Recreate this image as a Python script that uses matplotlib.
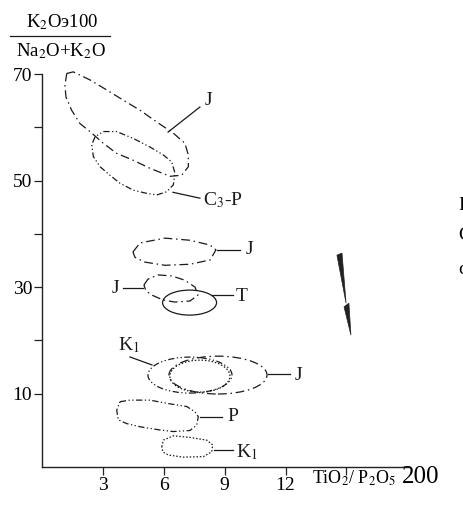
import numpy as np
import matplotlib
matplotlib.use("Agg")
import matplotlib.pyplot as plt
from matplotlib.patches import Polygon, Ellipse

plt.rcParams['font.family'] = ['Liberation Serif', 'DejaVu Serif']
plt.rcParams['mathtext.fontset'] = 'stix'

# ---- data (x = TiO2/P2O5, y = K2O*100/(Na2O+K2O)) ----
x_ticks = [3, 6, 9, 12, 15]
x_tick_labels = ["3", "6", "9", "12", ""]
y_ticks = [10, 20, 30, 40, 50, 60, 70]
y_tick_labels = ["10", "", "30", "", "50", "", "70"]

j_upper_x = [1.22, 1.54, 2.36, 3.19, 4.00, 4.83, 5.65, 6.47, 7.04, 7.21, 7.21, 6.88, 6.31,
             5.32, 4.50, 3.68, 3.02, 2.36, 1.87, 1.46, 1.18, 1.13]
j_upper_y = [70.1, 70.4, 68.9, 67.0, 65.1, 63.2, 61.0, 58.9, 57.0, 54.8, 52.6, 51.0, 50.8,
             52.3, 53.8, 55.1, 57.0, 59.2, 60.7, 63.2, 65.7, 67.9]

c3p_x = [3.02, 3.68, 4.50, 5.32, 5.98, 6.39, 6.55, 6.47, 6.14, 5.65, 5.16, 4.50, 3.84,
         3.35, 2.86, 2.53, 2.45, 2.61]
c3p_y = [59.2, 59.2, 57.9, 56.3, 54.8, 53.5, 51.4, 49.2, 47.9, 47.3, 47.6, 48.2, 49.5,
         51.0, 52.6, 54.5, 56.7, 58.2]

j_mid_x = [4.48, 4.83, 6.06, 7.29, 8.28, 8.57, 8.28, 7.29, 6.06, 5.07, 4.58]
j_mid_y = [36.6, 38.3, 39.2, 38.8, 37.9, 37.0, 35.1, 34.3, 34.1, 34.7, 35.6]

j_small_x = [5.02, 5.22, 5.71, 6.40, 7.04, 7.54, 7.68, 7.29, 6.55, 5.96, 5.42, 5.12]
j_small_y = [30.4, 31.5, 32.3, 32.1, 31.3, 30.0, 28.5, 27.4, 27.2, 27.6, 28.5, 29.3]

t_center = (7.27, 27.1)
t_size = (2.66, 4.69)

k1_upper_center = (7.29, 13.5)
k1_upper_size = (4.14, 6.75)
k1_inner_center = (7.78, 13.3)
k1_inner_size = (2.96, 6.0)
j_lower_center = (8.67, 13.5)
j_lower_size = (4.83, 7.1)

p_x = [3.84, 4.33, 5.32, 6.14, 7.13, 7.54, 7.70, 7.62, 7.29, 6.47, 5.81, 4.83, 4.17, 3.76, 3.68]
p_y = [8.5, 8.8, 8.8, 8.2, 7.6, 6.6, 5.7, 4.1, 3.1, 2.9, 3.2, 3.8, 4.4, 5.1, 6.9]

k1_lower_x = [5.90, 5.98, 6.47, 7.29, 8.11, 8.41, 8.36, 7.95, 6.96, 6.22, 5.95]
k1_lower_y = [0.06, 1.3, 2.1, 1.8, 1.3, 0.4, -0.9, -1.8, -1.9, -1.5, -0.9]

# labels: (text, text_x, text_y, leader_x0, leader_y0, leader_x1, leader_y1, ha)
labels = [
    ("J", 8.03, 65.1, 6.21, 59.1, 7.78, 63.8, "left"),
    ("C$_3$-P", 7.93, 46.3, 6.45, 47.8, 7.78, 46.7, "left"),
    ("J", 10.05, 37.0, 8.62, 37.0, 9.75, 37.0, "left"),
    ("J", 3.80, 29.8, 3.99, 29.8, 4.98, 29.8, "right"),
    ("T", 9.56, 28.3, 8.37, 28.5, 9.41, 28.5, "left"),
    ("K$_1$", 3.74, 19.1, 4.33, 16.9, 5.42, 15.4, "left"),
    ("J", 12.46, 13.5, 11.13, 13.7, 12.22, 13.7, "left"),
    ("P", 9.11, 5.7, 7.78, 5.7, 8.87, 5.7, "left"),
    ("K$_1$", 9.56, -1.0, 8.45, -0.5, 9.40, -0.5, "left"),
]

# decoration (bolt) vertices in data units
bolt_upper_x = [14.53, 14.78, 14.98]
bolt_upper_y = [36.0, 36.4, 27.0]
bolt_lower_x = [14.88, 15.12, 15.22]
bolt_lower_y = [26.3, 27.0, 21.0]

# ---- figure ----
W, H = 464, 507
fig = plt.figure(figsize=(W / 100, H / 100), dpi=100)
ax = fig.add_axes([42 / W, 1 - 467 / H, (410 - 42) / W, (467 - 74) / H])
ax.set_xlim(0, 18.13)
ax.set_ylim(-3.75, 70)
for s in ("top", "right"):
    ax.spines[s].set_visible(False)
for s in ("left", "bottom"):
    ax.spines[s].set_linewidth(1.0)
    ax.spines[s].set_color("#222222")

ax.set_xticks(x_ticks)
ax.set_xticklabels(x_tick_labels)
ax.set_yticks(y_ticks)
ax.set_yticklabels(y_tick_labels)
ax.tick_params(axis="both", direction="out", length=6, width=0.9, color="#222222",
               labelsize=14, pad=1)

col = "#1a1a1a"
lw = 0.9
dashdot = (0, (7, 3, 1.2, 3))
dashdotdot = (0, (5, 2, 1, 2, 1, 2))
dotted = (0, (1.2, 1.5))

def poly(xs, ys, ls, **kw):
    p = Polygon(np.column_stack([xs, ys]), closed=True, fill=False, edgecolor=col,
                lw=lw, linestyle=ls, clip_on=False, **kw)
    ax.add_patch(p)

poly(j_upper_x, j_upper_y, dashdot)
poly(c3p_x, c3p_y, dashdotdot)
poly(j_mid_x, j_mid_y, dashdot)
poly(j_small_x, j_small_y, dashdot)
ax.add_patch(Ellipse(t_center, t_size[0], t_size[1], fill=False, edgecolor=col, lw=lw))
ax.add_patch(Ellipse(k1_upper_center, k1_upper_size[0], k1_upper_size[1], fill=False,
                     edgecolor=col, lw=lw, linestyle=dashdotdot))
ax.add_patch(Ellipse(k1_inner_center, k1_inner_size[0], k1_inner_size[1], fill=False,
                     edgecolor=col, lw=lw, linestyle=dotted))
ax.add_patch(Ellipse(j_lower_center, j_lower_size[0], j_lower_size[1], fill=False,
                     edgecolor=col, lw=lw, linestyle=dashdot))
poly(p_x, p_y, dashdotdot)
poly(k1_lower_x, k1_lower_y, dotted)

for txt, tx, ty, x0, y0, x1, y1, ha in labels:
    ax.plot([x0, x1], [y0, y1], color=col, lw=0.9, clip_on=False)
    ax.text(tx, ty, txt, ha=ha, va="center", fontsize=14, color=col)

for bx, by in ((bolt_upper_x, bolt_upper_y), (bolt_lower_x, bolt_lower_y)):
    ax.add_patch(Polygon(np.column_stack([bx, by]), closed=True, facecolor="#222222",
                         edgecolor="#222222", lw=0.5, clip_on=False))

# axis titles
fig.text(62 / W, 1 - 22 / H, "K$_2$Oэ100", ha="center", va="center", fontsize=13.5)
fig.add_artist(plt.Line2D([10 / W, 110 / W], [1 - 36 / H, 1 - 36 / H], color=col, lw=0.9))
fig.text(61 / W, 1 - 51 / H, "Na$_2$O+K$_2$O", ha="center", va="center", fontsize=13.5)
fig.text(354 / W, 1 - 478 / H, "TiO$_2$/ P$_2$O$_5$", ha="center", va="center", fontsize=13)

# page fragments
fig.text(421 / W, 1 - 477 / H, "200", ha="center", va="center", fontsize=18)
for yy, ch in ((205, "Р"), (236, "С"), (270, "с")):
    fig.text(458 / W, 1 - yy / H, ch, ha="left", va="center", fontsize=14)

fig.savefig("out.png", dpi=100)
